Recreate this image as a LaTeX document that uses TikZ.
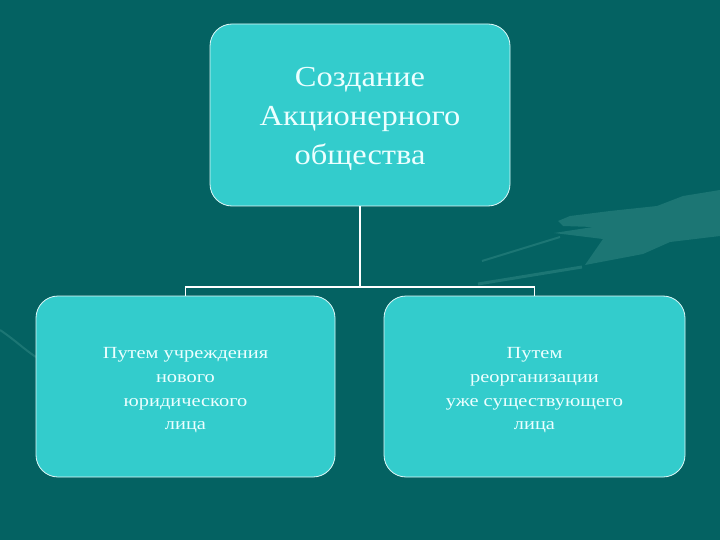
\documentclass[tikz,border=0pt]{standalone}
\usepackage{fontspec}
\setmainfont{Liberation Serif}
\newfontfamily\widetop[FakeStretch=1.12]{Liberation Serif}
\newfontfamily\widebot[FakeStretch=1.2]{Liberation Serif}
\definecolor{bg}{RGB}{4,98,98}
\definecolor{boxfill}{RGB}{51,204,204}
\definecolor{swoosh}{RGB}{28,118,116}
\definecolor{txt}{RGB}{236,255,255}
\tikzset{
  box/.style={draw=white!85!boxfill, line width=0.8pt, fill=boxfill, rounded corners=22pt, inner sep=0pt},
  boxtext/.style={align=center, text=txt, inner sep=0pt},
  link/.style={draw=white, line width=1.6pt}
}
\begin{document}
\begin{tikzpicture}[x=1pt,y=-1pt]
\fill[bg] (0,0) rectangle (720,540);
\useasboundingbox (0,0) rectangle (720,540);
% faint background decoration (hand with wand)
\fill[swoosh] (720,190) -- (683,196) -- (657,206) -- (610,211) -- (570,216) -- (558,221)
  -- (563,226) -- (593,227) -- (554,233) -- (603,239) -- (585,265) -- (643,254)
  -- (670,242) -- (720,236) -- cycle;
\draw[swoosh, line width=2pt] (560,237) -- (482,261);
\draw[swoosh, line width=3pt] (582,267) -- (478,284);
\draw[swoosh, line width=2pt] (0,330) .. controls (15,340) and (25,350) .. (36,357);
\node[box, minimum width=300pt, minimum height=182pt] (top) at (360,115) {};
\node[boxtext, font=\widetop\fontsize{29}{39}\selectfont] (toptext) at (360,119) {Создание\\Акционерного\\общества};
\node[box, minimum width=299pt, minimum height=181pt] (left) at (185.5,386.5) {};
\node[boxtext, font=\widebot\fontsize{17}{23.7}\selectfont] (lefttext) at (185.5,390.5) {Путем учреждения\\нового\\юридического\\лица};
\node[box, minimum width=301pt, minimum height=181pt] (right) at (534.5,386.5) {};
\node[boxtext, font=\widebot\fontsize{17}{23.7}\selectfont] (righttext) at (534.5,390.5) {Путем\\реорганизации\\уже существующего\\лица};
\coordinate (j) at (360,287);
\draw[link] (top.south) -- (j);
\draw[link] (left.north) |- (j) -| (right.north);
\end{tikzpicture}
\end{document}
